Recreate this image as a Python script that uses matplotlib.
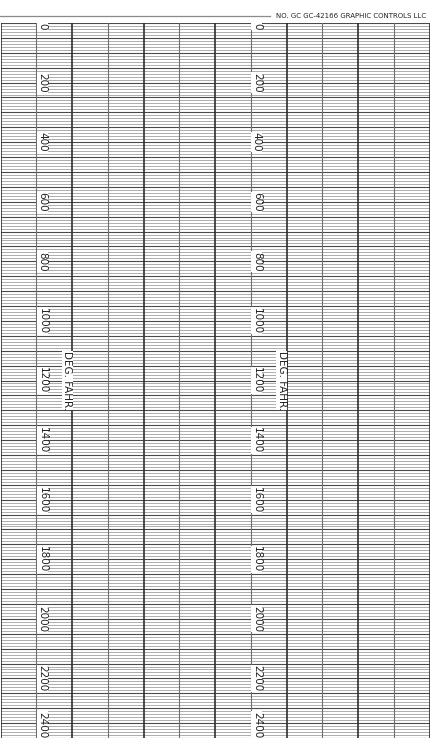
import numpy as np
import matplotlib
matplotlib.use("Agg")
import matplotlib.pyplot as plt

# Chart paper scale (deg F) and layout data
SCALE_MIN = 0
SCALE_MAX = 2400
MINOR_STEP = 10
MAJOR_STEP = 50
tick_values = [0, 200, 400, 600, 800, 1000, 1200, 1400, 1600, 1800, 2000, 2200, 2400]
tick_labels = [str(v) for v in tick_values]
n_columns = 12
label_columns = [1, 7]
unit_label = "DEG. FAHR."
unit_label_value = 1200
header_text = "NO. GC GC-42166 GRAPHIC CONTROLS LLC"

W, H = 430, 756
fig = plt.figure(figsize=(W / 100, H / 100), dpi=100)
fig.patch.set_facecolor("white")

# axes covering the printed grid area (pixels -> figure fraction)
left, right, top, bottom = 0.7, 429.5, 23, 738
ax = fig.add_axes([left / W, (H - bottom) / H, (right - left) / W, (bottom - top) / H])
ax.set_xlim(0, n_columns)
ax.set_ylim(SCALE_MAX, SCALE_MIN)
ax.axis("off")

# horizontal rules
for v in np.arange(SCALE_MIN, SCALE_MAX + 1, MINOR_STEP):
    if v % MAJOR_STEP == 0:
        ax.axhline(v, color="#4a4a4a", lw=0.8, zorder=2)
    else:
        ax.axhline(v, color="#a0a0a0", lw=0.6, zorder=1)

# vertical rules
for c in range(n_columns + 1):
    if c % 2 == 0:
        ax.axvline(c, color="#2e2e2e", lw=1.2, zorder=3)
    else:
        ax.axvline(c, color="#6e6e6e", lw=0.8, zorder=3)

# scale labels
box = dict(facecolor="white", edgecolor="none", pad=0.3)
for col in label_columns:
    for v, lab in zip(tick_values, tick_labels):
        va = "center"
        if v == SCALE_MIN:
            va = "top"
        elif v == SCALE_MAX:
            va = "bottom"
        ax.text(col + 0.03, v, lab, rotation=270, ha="left", va=va,
                fontsize=7.5, color="#222222", bbox=box, zorder=5)
    ax.text(col + 0.72, unit_label_value, unit_label, rotation=270, ha="left",
            va="center", fontsize=7.5, color="#222222", bbox=box, zorder=5)

# header strip
fig.add_artist(plt.Line2D([0, 270 / W], [1 - 16 / H, 1 - 16 / H],
                          color="#8a8a8a", lw=0.9))
fig.text(276 / W, 1 - 16 / H, header_text, ha="left", va="center",
         fontsize=5.0, color="#222222")

fig.savefig("out.png", dpi=100)
